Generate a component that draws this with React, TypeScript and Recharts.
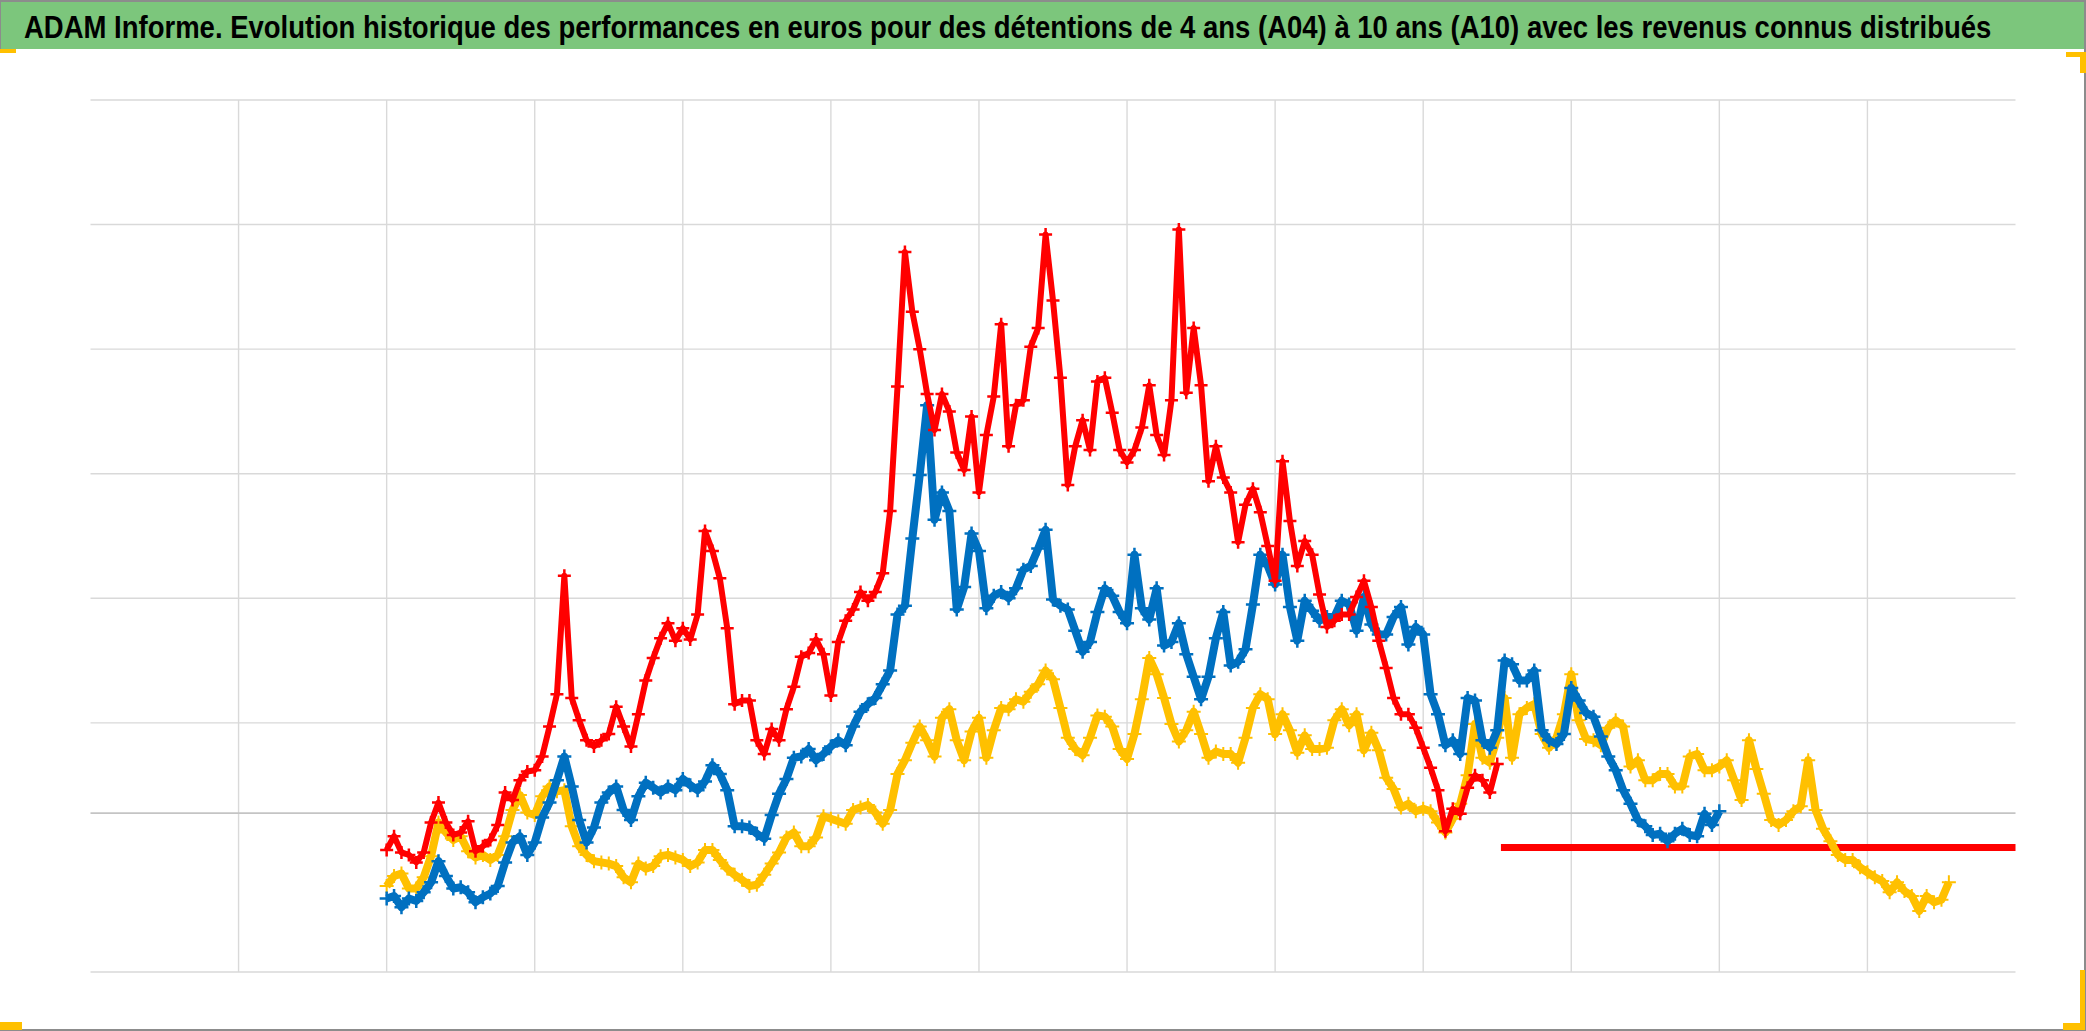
import React, { useLayoutEffect, useRef, useState } from 'react'
import { ComposedChart, Line, ReferenceLine, Scatter, XAxis, YAxis } from 'recharts'

const TITLE =
  'ADAM Informe. Evolution historique des performances en euros pour des détentions de 4 ans (A04) à 10 ans (A10) avec les revenus connus distribués'

// one reading every 0.1 year, starting 1994.0
const START_YEAR = 1994
const STEP = 0.1

// A10 (10 ans) - red
const a10Values = [
  98, 109, 96, 94, 88, 96, 120, 136, 120, 110,
  112, 121, 97, 101, 106, 118, 144, 138, 154, 161,
  162, 173, 197, 223, 318, 220, 202, 186, 181, 186,
  191, 213, 197, 181, 207, 234, 252, 268, 280, 266,
  276, 267, 287, 354, 338, 316, 276, 215, 218, 218,
  186, 175, 195, 186, 211, 229, 253, 256, 267, 255,
  222, 265, 282, 291, 305, 298, 305, 320, 370, 470,
  578, 530, 500, 464, 435, 464, 450, 417, 403, 446,
  385, 431, 462, 520, 422, 455, 459, 502, 517, 592,
  539, 477, 391, 422, 443, 419, 474, 477, 449, 419,
  409, 419, 437, 471, 431, 415, 459, 596, 465, 517,
  471, 394, 422, 397, 385, 345, 375, 388, 369, 342,
  314, 410, 362, 326, 346, 335, 303, 277, 282, 287,
  287, 301, 314, 293, 266, 244, 220, 207, 207, 196,
  180, 164, 146, 113, 131, 127, 148, 158, 154, 144,
  167,
]

// A07 (7 ans) - blue
const a07Values = [
  59, 61, 52, 59, 57, 64, 72, 89, 77, 67,
  68, 64, 56, 60, 63, 69, 88, 104, 109, 94,
  104, 124, 136, 154, 173, 149, 122, 104, 116, 136,
  144, 149, 130, 122, 141, 152, 148, 144, 149, 146,
  155, 150, 146, 153, 166, 159, 146, 117, 117, 116,
  111, 107, 126, 143, 155, 172, 173, 179, 170, 175,
  181, 186, 182, 197, 209, 215, 220, 231, 242, 287,
  294, 348, 399, 455, 363, 385, 370, 291, 309, 352,
  338, 292, 302, 305, 300, 308, 323, 326, 340, 355,
  299, 294, 291, 274, 257, 265, 289, 308, 302, 289,
  280, 335, 292, 283, 308, 262, 265, 280, 255, 237,
  219, 237, 268, 289, 246, 249, 259, 295, 335, 326,
  311, 335, 293, 266, 298, 290, 282, 285, 285, 298,
  295, 274, 301, 279, 271, 271, 285, 293, 263, 277,
  271, 223, 207, 182, 186, 175, 220, 218, 186, 180,
  194, 250, 247, 234, 234, 242, 194, 186, 183, 191,
  228, 218, 208, 205, 189, 173, 162, 146, 135, 122,
  117, 110, 111, 105, 111, 115, 110, 109, 127, 118,
  129,
]

// A04 (4 ans) - yellow
const a04Values = [
  69, 77, 79, 67, 67, 76, 93, 120, 112, 106,
  109, 97, 92, 94, 90, 94, 109, 130, 142, 128,
  126, 141, 149, 145, 146, 117, 101, 94, 89, 88,
  87, 85, 76, 72, 87, 83, 85, 93, 94, 92,
  90, 85, 88, 98, 98, 90, 83, 78, 74, 69,
  70, 78, 87, 96, 108, 112, 101, 101, 108, 125,
  123, 121, 119, 130, 132, 134, 128, 119, 130, 159,
  170, 184, 197, 186, 173, 204, 211, 186, 170, 193,
  204, 172, 194, 212, 211, 219, 217, 225, 231, 242,
  235, 212, 188, 179, 174, 188, 206, 205, 197, 179,
  171, 191, 219, 252, 239, 220, 199, 185, 194, 209,
  191, 172, 177, 175, 175, 168, 188, 212, 223, 219,
  191, 207, 194, 176, 190, 179, 179, 180, 202, 211,
  198, 207, 178, 192, 178, 156, 147, 132, 135, 129,
  131, 129, 120, 112, 123, 135, 158, 199, 172, 168,
  188, 220, 172, 207, 212, 215, 191, 180, 188, 207,
  239, 202, 187, 186, 182, 196, 202, 197, 165, 170,
  154, 154, 159, 159, 149, 149, 173, 175, 162, 162,
  165, 170, 154, 138, 186, 163, 143, 122, 118, 122,
  129, 133, 170, 130, 115, 105, 94, 90, 90, 84,
  80, 76, 73, 64, 72, 65, 61, 49, 61, 56,
  58, 72,
]

// A10 after the last known 10-year window: flat value
const a10FlatYears = [2009.05, 2016]
const a10FlatValues = [100, 100]

const yearTicks = [1992, 1994, 1996, 1998, 2000, 2002, 2004, 2006, 2008, 2010, 2012, 2014]
const valueTicks = [0, 200, 300, 400, 500, 600, 700]
const AXIS_CROSS = 127.5

const toPoints = (values: number[]) =>
  values.map((value, i) => ({ year: Math.round((START_YEAR + i * STEP) * 100) / 100, value }))

const red = toPoints(a10Values)
const blue = toPoints(a07Values)
const yellow = toPoints(a04Values)
const redFlat = a10FlatYears.map((year, i) => ({ year, value: a10FlatValues[i] }))

function plusShape(color: string, width: number, half: number) {
  return (props: any) => {
    const { cx, cy } = props
    if (cx == null || cy == null) return <g />
    return (
      <path
        d={`M${cx - half},${cy}H${cx + half}M${cx},${cy - half}V${cy + half}`}
        stroke={color}
        strokeWidth={width}
        fill="none"
      />
    )
  }
}

const ORANGE = '#FFC000'
const GRID = '#D9D9D9'
const TITLE_WIDTH = 1967

function Box({ l, t, w, h, c }: { l: number; t: number; w: number; h: number; c: string }) {
  return <div style={{ position: 'absolute', left: l, top: t, width: w, height: h, background: c }} />
}

// condense the title to the width it has in the original banner
function Title() {
  const ref = useRef<HTMLSpanElement>(null)
  const [scale, setScale] = useState(1)
  useLayoutEffect(() => {
    if (!ref.current) return
    const w = ref.current.offsetWidth
    if (w > 0) setScale(TITLE_WIDTH / w)
  }, [])
  return (
    <div
      style={{
        position: 'absolute',
        left: 24,
        top: 3,
        whiteSpace: 'nowrap',
        lineHeight: '49px',
      }}
    >
      <span
        ref={ref}
        style={{
          display: 'inline-block',
          fontFamily: "'Liberation Sans', Arial, sans-serif",
          fontWeight: 700,
          fontSize: 32,
          color: '#000000',
          transform: `scaleX(${scale})`,
          transformOrigin: '0 50%',
        }}
      >
        {TITLE}
      </span>
    </div>
  )
}

export default function App() {
  return (
    <div
      style={{
        position: 'absolute',
        left: 0,
        top: 0,
        width: 2086,
        height: 1031,
        background: '#FFFFFF',
        overflow: 'hidden',
      }}
    >
      <div
        style={{
          position: 'absolute',
          left: 0,
          top: 0,
          width: 2085,
          height: 47,
          background: '#7CC67C',
          borderTop: '2px solid #8C8C8C',
          borderLeft: '1px solid #8C8C8C',
        }}
      />
      <Title />

      <div style={{ position: 'absolute', left: 0, top: 0 }}>
        <ComposedChart
          width={2086}
          height={1031}
          margin={{ top: 100, right: 70.5, bottom: 59, left: 90.5 }}
        >
          <XAxis
            type="number"
            dataKey="year"
            domain={[1990, 2016]}
            tick={false}
            tickLine={false}
            axisLine={false}
            height={0}
          />
          <YAxis
            type="number"
            dataKey="value"
            domain={[0, 700]}
            tick={false}
            tickLine={false}
            axisLine={{ stroke: '#BFBFBF', strokeWidth: 2 }}
            width={0}
          />
          {yearTicks.map((t) => (
            <ReferenceLine key={`x${t}`} x={t} stroke={GRID} strokeWidth={1.4} />
          ))}
          {valueTicks.map((t) => (
            <ReferenceLine key={`y${t}`} y={t} stroke={GRID} strokeWidth={1.4} />
          ))}
          <ReferenceLine y={AXIS_CROSS} stroke="#C4C4C4" strokeWidth={1.6} />
          <Scatter
            data={yellow}
            fill="#FFC000"
            line={{ stroke: '#FFC000', strokeWidth: 8, strokeLinejoin: 'round' }}
            shape={plusShape('#FFC000', 2, 7)}
            isAnimationActive={false}
          />
          <Scatter
            data={blue}
            fill="#0070C0"
            line={{ stroke: '#0070C0', strokeWidth: 8, strokeLinejoin: 'round' }}
            shape={plusShape('#0070C0', 2.5, 7)}
            isAnimationActive={false}
          />
          <Scatter
            data={red}
            fill="#FF0000"
            line={{ stroke: '#FF0000', strokeWidth: 6, strokeLinejoin: 'round' }}
            shape={plusShape('#FF0000', 2.5, 6.5)}
            isAnimationActive={false}
          />
          <Line
            data={redFlat}
            dataKey="value"
            stroke="#FF0000"
            strokeWidth={7}
            dot={false}
            activeDot={false}
            isAnimationActive={false}
          />
        </ComposedChart>
      </div>

      {/* chart frame and selection handles */}
      <Box l={2084} t={0} w={2} h={1031} c="#8C8C8C" />
      <Box l={0} t={1029} w={2086} h={2} c="#8C8C8C" />
      <Box l={0} t={49} w={16} h={4} c={ORANGE} />
      <Box l={2066} t={52} w={20} h={5} c={ORANGE} />
      <Box l={2080} t={52} w={6} h={21} c={ORANGE} />
      <Box l={0} t={1022} w={22} h={8} c={ORANGE} />
      <Box l={2080} t={970} w={5} h={60} c={ORANGE} />
      <Box l={2063} t={1023} w={22} h={7} c={ORANGE} />
    </div>
  )
}
